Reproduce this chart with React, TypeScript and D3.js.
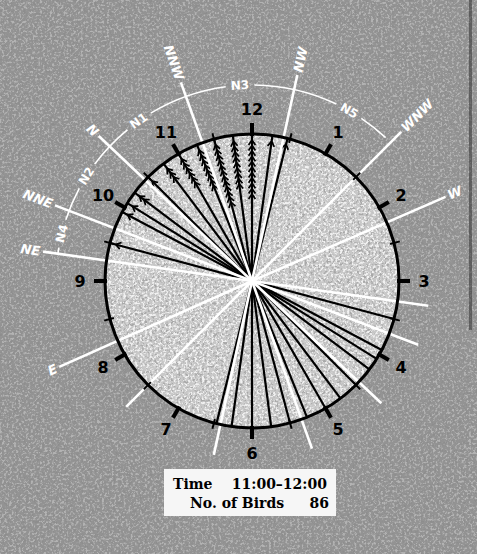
import React from "react";
import * as d3 from "d3";

// clock face
const hourLabels = ["12", "1", "2", "3", "4", "5", "6", "7", "8", "9", "10", "11"];

// compass lines (degrees clockwise from 12 o'clock, as drawn)
const compassNames = ["N", "NNE", "NE", "E", "NNW", "NW", "WNW", "W"];
const compassAngles = [-46.6, -69, -82, 246, -19.7, 12.4, 45, 66.5];
const plainTails = ["N", "NNE", "NE", "NNW", "NW", "WNW"];

// reference arc marks
const arcLabels = ["N4", "N2", "N1", "N3", "N5"];
const arcAngles = [-76, -57.6, -35.3, -3.5, 29.7];
const arcExtent = [-82, 43];

// bird tracks: direction of the outgoing end and number of birds on it
const trackAngles = [-75, -62, -58, -53, -45, -37, -30, -22, -15, -7.5, 0, 8, 14];
const birdCounts = [1, 1, 1, 2, 1, 3, 6, 8, 12, 9, 11, 1, 1];

const boxTime = ["Time", "11:00\u201312:00"];
const boxBirds = ["No. of Birds", "86"];

const W = 477;
const H = 554;
const cx = 252;
const cy = 281;
const R = 147;

const rad = (deg: number) => (deg * Math.PI) / 180;
const pt = (deg: number, r: number): [number, number] => {
  const [x, y] = d3.pointRadial(rad(deg), r);
  return [cx + x, cy + y];
};
const line = d3.line();
const hourScale = d3.scaleLinear().domain([0, 12]).range([0, 360]);

export default function App() {
  // arc segments with gaps around the labels
  const gap = 4.2;
  const cuts = arcAngles.slice().sort((a, b) => a - b);
  const segs: [number, number][] = [];
  let from = arcExtent[0];
  cuts.forEach((a) => {
    if (a - gap > from) segs.push([from, a - gap]);
    from = a + gap;
  });
  segs.push([from, arcExtent[1]]);
  const arcPath = (a0: number, a1: number) => {
    const p = d3.path();
    p.arc(cx, cy, 196, rad(a0 - 90), rad(a1 - 90));
    return p.toString();
  };

  return (
    <svg width={W} height={H} style={{ display: "block" }}>
      <style>{`body{margin:0}`}</style>
      <defs>
        <filter id="dark" x="0" y="0" width="100%" height="100%">
          <feTurbulence type="fractalNoise" baseFrequency="0.38" numOctaves="3" seed="4" />
          <feColorMatrix type="matrix" values="0 0 0 0 0.25  0 0 0 0 0.25  0 0 0 0 0.25  -6 0 0 0 2.9" />
        </filter>
        <filter id="light" x="0" y="0" width="100%" height="100%">
          <feTurbulence type="fractalNoise" baseFrequency="0.42" numOctaves="3" seed="11" />
          <feColorMatrix type="matrix" values="0 0 0 0 1  0 0 0 0 1  0 0 0 0 1  0 6 0 0 -3.0" />
        </filter>
        <filter id="mottle" x="0" y="0" width="100%" height="100%">
          <feTurbulence type="fractalNoise" baseFrequency="0.02" numOctaves="3" seed="2" />
          <feColorMatrix type="matrix" values="0 0 0 0 0.3  0 0 0 0 0.3  0 0 0 0 0.3  -3 0 0 0 1.6" />
        </filter>
        <clipPath id="face">
          <circle cx={cx} cy={cy} r={R} />
        </clipPath>
      </defs>

      {/* paper */}
      <rect width={W} height={H} fill="#939393" />
      <rect width={W} height={H} filter="url(#mottle)" opacity={0.3} />
      <circle cx={cx} cy={cy} r={R} fill="#c8c8c8" />
      <rect width={W} height={H} filter="url(#light)" opacity={0.3} />
      <rect width={W} height={H} filter="url(#dark)" opacity={0.5} />
      <g clipPath="url(#face)">
        <rect width={W} height={H} filter="url(#light)" opacity={0.65} />
      </g>
      <rect x={469} y={0} width={3} height={330} fill="#2a2a2a" opacity={0.5} />

      {/* reference arc */}
      <g fill="none" stroke="#fff" strokeWidth={1.6}>
        {segs.map(([a0, a1], i) => (
          <path key={i} d={arcPath(a0, a1)} />
        ))}
      </g>
      {arcLabels.map((l, i) => {
        const [x, y] = pt(arcAngles[i], 196);
        return (
          <text
            key={l}
            x={x}
            y={y}
            transform={`rotate(${arcAngles[i]},${x},${y})`}
            textAnchor="middle"
            dominantBaseline="central"
            fill="#fff"
            fontFamily="DejaVu Sans"
            fontWeight="bold"
            fontSize={12}
          >
            {l}
          </text>
        );
      })}

      {/* bird tracks */}
      <g stroke="#000" fill="none">
        {trackAngles.map((a, i) => (
          <path key={i} d={line([pt(a, R), pt(a + 180, R)]) || ""} strokeWidth={2.2} />
        ))}
        {trackAngles.map((a, i) =>
          d3.range(birdCounts[i]).map((k) => {
            const r = 141 - k * 5.4;
            const tip = pt(a, r);
            const back = pt(a, r - 5);
            const [px, py] = [Math.cos(rad(a)) * 3.4, Math.sin(rad(a)) * 3.4];
            return (
              <path
                key={`${i}-${k}`}
                d={line([[back[0] - px, back[1] - py], tip, [back[0] + px, back[1] + py]]) || ""}
                strokeWidth={1.7}
              />
            );
          })
        )}
      </g>

      {/* compass lines */}
      <g stroke="#fff" strokeWidth={2.6} strokeLinecap="butt">
        {compassAngles.map((a, i) => (
          <path key={i} d={line([[cx, cy], pt(a, 211)]) || ""} />
        ))}
        {compassNames.map((n, i) =>
          plainTails.includes(n) ? (
            <path key={`t${i}`} d={line([[cx, cy], pt(compassAngles[i] + 180, 178)]) || ""} />
          ) : null
        )}
      </g>
      {compassNames.map((n, i) => {
        let a = compassAngles[i];
        if (a > 180) a -= 360;
        const right = a > 0;
        const [x, y] = pt(a, 214);
        const rot = right ? a - 90 : a + 90;
        return (
          <text
            key={n}
            x={x}
            y={y}
            transform={`rotate(${rot},${x},${y})`}
            textAnchor={right ? "start" : "end"}
            dominantBaseline="central"
            fill="#fff"
            fontFamily="DejaVu Sans"
            fontWeight="bold"
            fontStyle="italic"
            fontSize={13}
          >
            {n}
          </text>
        );
      })}

      {/* clock face */}
      <circle cx={cx} cy={cy} r={R} fill="none" stroke="#000" strokeWidth={3} />
      <g stroke="#000">
        {hourLabels.map((h, i) => (
          <path key={h} d={line([pt(hourScale(i), R - 2), pt(hourScale(i), R + 11)]) || ""} strokeWidth={4} />
        ))}
        {hourLabels.map((h, i) => (
          <path
            key={`m${h}`}
            d={line([pt(hourScale(i + 0.5), R - 4), pt(hourScale(i + 0.5), R + 6)]) || ""}
            strokeWidth={2}
          />
        ))}
      </g>
      {hourLabels.map((h, i) => {
        const [x, y] = pt(hourScale(i), 172);
        return (
          <text
            key={h}
            x={x}
            y={y}
            textAnchor="middle"
            dominantBaseline="central"
            fontFamily="DejaVu Sans"
            fontWeight="bold"
            fontSize={16}
            fill="#000"
          >
            {h}
          </text>
        );
      })}

      {/* caption box */}
      <rect x={164} y={469} width={172} height={47} fill="#f6f6f6" />
      <g fontFamily="DejaVu Serif" fontWeight="bold" fontSize={14} fill="#000">
        <text x={173} y={489}>{boxTime[0]}</text>
        <text x={327} y={489} textAnchor="end">{boxTime[1]}</text>
        <text x={190} y={508}>{boxBirds[0]}</text>
        <text x={329} y={508} textAnchor="end">{boxBirds[1]}</text>
      </g>
    </svg>
  );
}
